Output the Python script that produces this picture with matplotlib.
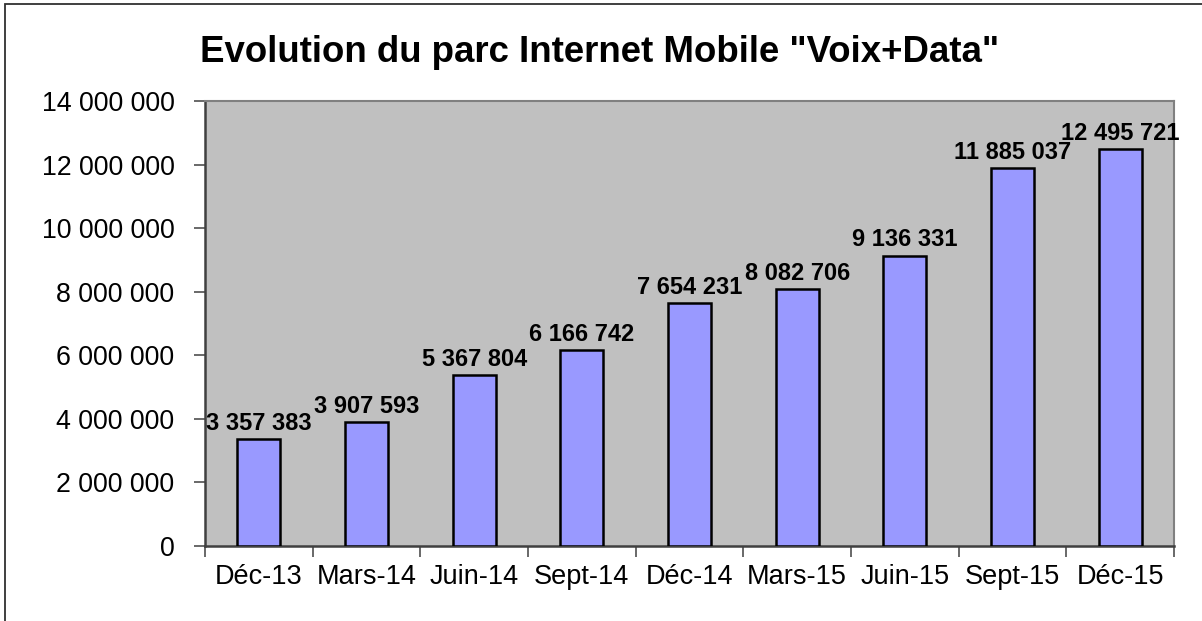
import matplotlib
matplotlib.use("Agg")
import matplotlib.pyplot as plt
from matplotlib.patches import Rectangle
from matplotlib.ticker import FixedLocator, FuncFormatter

categories = ["Déc-13", "Mars-14", "Juin-14", "Sept-14", "Déc-14", "Mars-15", "Juin-15", "Sept-15", "Déc-15"]
values = [3357383, 3907593, 5367804, 6166742, 7654231, 8082706, 9136331, 11885037, 12495721]
title = 'Evolution du parc Internet Mobile "Voix+Data"'

plt.rcParams['font.family'] = ['Liberation Sans', 'DejaVu Sans']

W, H = 1202, 621
fig = plt.figure(figsize=(W / 100, H / 100), dpi=100)
fig.patch.set_facecolor('white')

# outer chart border (partially cut off on right/bottom)
fig.patches.append(Rectangle((5 / W, -0.1), 1.2, 1 - 4 / H + 0.1, transform=fig.transFigure,
                             fill=False, edgecolor='#303030', linewidth=1.3))

left, right, top, bottom = 205, 1174, 101, 546
ax = fig.add_axes([left / W, 1 - bottom / H, (right - left) / W, (bottom - top) / H])
ax.set_facecolor('#C0C0C0')

x = list(range(len(categories)))
bars = ax.bar(x, values, width=0.40, color='#9999FF', edgecolor='black', linewidth=1.8, zorder=3)

fmt = lambda v: f"{int(round(v)):,}".replace(",", " ")
for xi, v in zip(x, values):
    ax.annotate(fmt(v), (xi, v), xytext=(0, 3), textcoords='offset points',
                ha='center', va='bottom', fontsize=17.0, fontweight='bold', zorder=4)

ax.set_xlim(-0.5, len(categories) - 0.5)
ax.set_ylim(0, 14000000)
ax.set_yticks(range(0, 14000001, 2000000))
ax.yaxis.set_major_formatter(FuncFormatter(lambda v, p: fmt(v)))
ax.set_xticks(x)
ax.set_xticklabels(categories)
ax.xaxis.set_minor_locator(FixedLocator([i - 0.5 for i in range(len(categories) + 1)]))
ax.tick_params(axis='x', which='major', length=0, pad=13, labelsize=19.5)
ax.tick_params(axis='x', which='minor', length=8, width=1.1, color='#404040', direction='out')
ax.tick_params(axis='y', length=8, width=1.1, color='#404040', direction='out', pad=14, labelsize=19.3)

for s in ['top', 'right']:
    ax.spines[s].set_color('#808080')
    ax.spines[s].set_linewidth(1.5)
for s in ['left', 'bottom']:
    ax.spines[s].set_color('#404040')
    ax.spines[s].set_linewidth(1.8)

fig.text(600 / W, 1 - 52 / H, title, ha='center', va='center', fontsize=26.4, fontweight='bold')

fig.savefig('out.png', dpi=100)
